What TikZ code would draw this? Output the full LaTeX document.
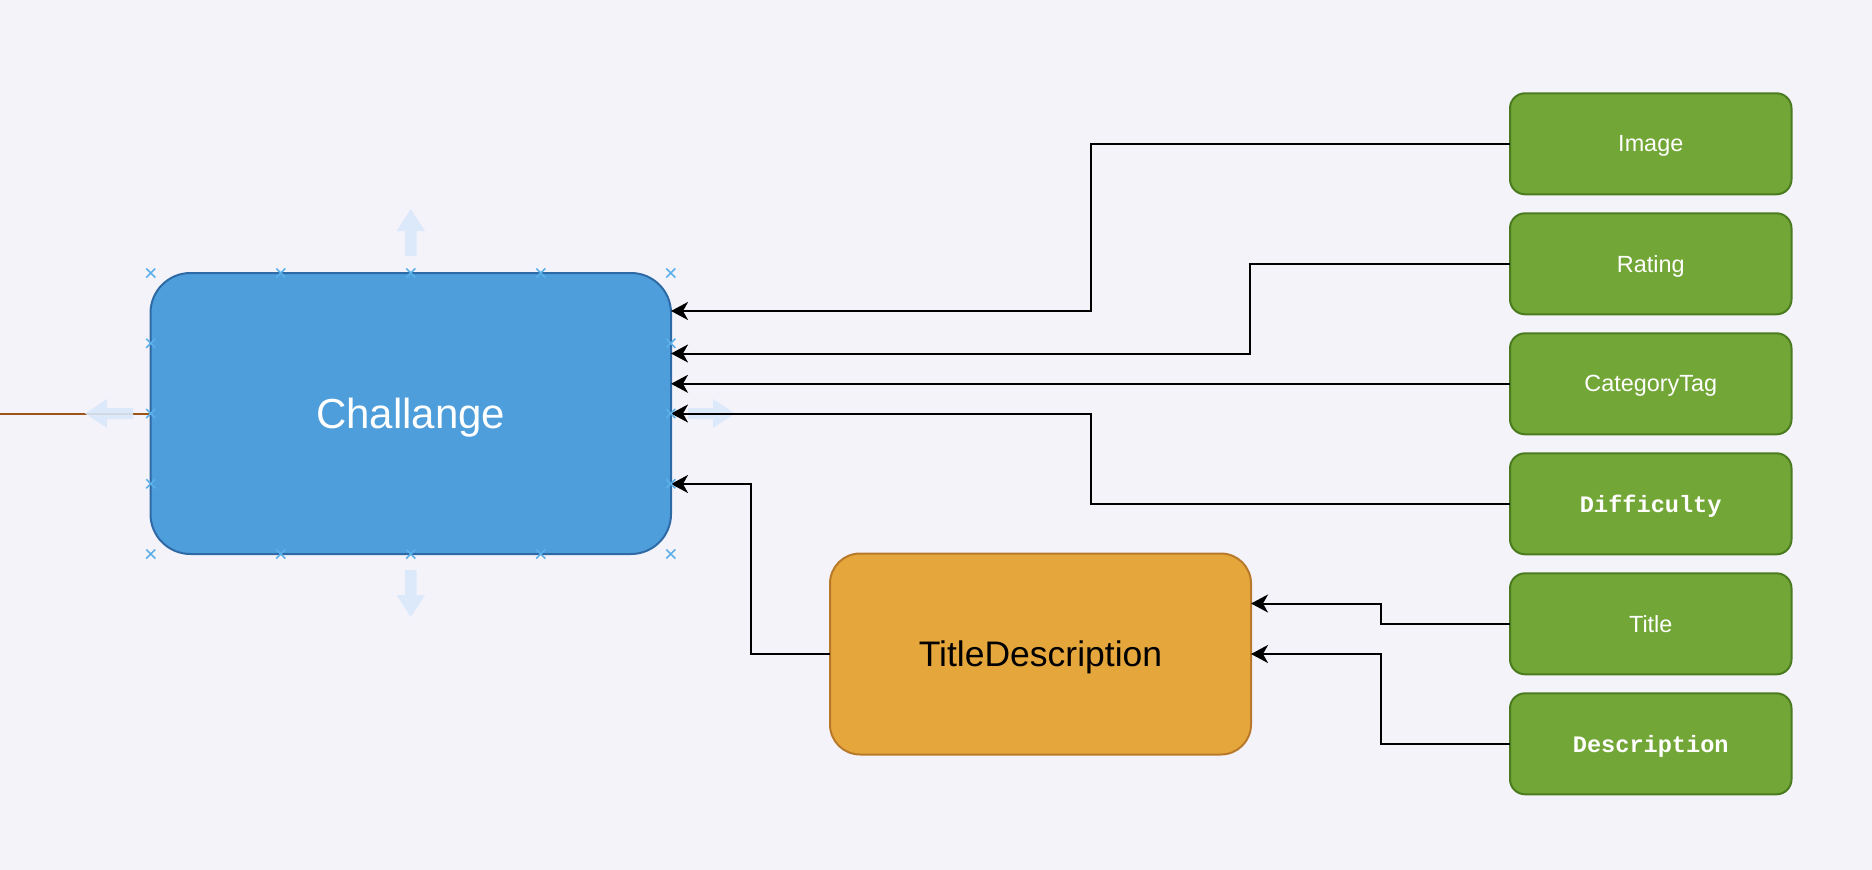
\documentclass[tikz,border=0pt]{standalone}
\usepackage{fontspec}
\setmainfont{Liberation Sans}
\newfontfamily\monob{Liberation Mono}
\usetikzlibrary{arrows.meta,calc}
\definecolor{bgc}{RGB}{245,243,250}
\definecolor{bluef}{RGB}{78,158,219}
\definecolor{blues}{RGB}{46,106,166}
\definecolor{greenf}{RGB}{114,166,54}
\definecolor{greens}{RGB}{75,123,33}
\definecolor{orangef}{RGB}{229,166,59}
\definecolor{oranges}{RGB}{184,122,42}
\definecolor{crossc}{RGB}{91,176,234}
\definecolor{hintc}{RGB}{218,232,250}
\definecolor{brownc}{RGB}{156,84,24}
\tikzset{
  box/.style={draw, line width=2pt, inner sep=0pt, outer sep=0pt, text depth=0pt},
  mainbox/.style={box, fill=bluef, draw=blues, rounded corners=40pt,
    minimum width=520.5pt, minimum height=281pt, text=white,
    font=\fontsize{42}{50}\selectfont},
  subbox/.style={box, fill=orangef, draw=oranges, rounded corners=30pt,
    minimum width=421pt, minimum height=201pt, text=black,
    font=\fontsize{35.5}{42}\selectfont},
  leaf/.style={box, fill=greenf, draw=greens, rounded corners=15pt,
    minimum width=281.5pt, minimum height=101pt, text=white,
    font=\fontsize{23.4}{28}\selectfont},
  monoleaf/.style={leaf, font=\fontsize{23.6}{28}\selectfont\monob\bfseries},
  arr/.style={line width=2pt, draw=black,
    -{Stealth[length=17pt,width=18pt,inset=5pt]}},
  xmark/.style={draw=crossc, line width=1.6pt},
  hint/.style={fill=hintc, draw=none, fill opacity=0.9}
}
\begin{document}
\begin{tikzpicture}[x=1pt,y=-1pt]
\fill[bgc] (0,0) rectangle (1872,870);
\useasboundingbox (0,0) rectangle (1872,870);

% nodes
\node[mainbox] (chal) at (410.75,413.5) {Challange};
\node[subbox] (td) at (1040.5,654) {TitleDescription};
\node[leaf] (img) at (1650.75,143.8) {Image};
\node[leaf] (rat) at (1650.75,263.8) {Rating};
\node[leaf] (cat) at (1650.75,383.8) {CategoryTag};
\node[monoleaf] (dif) at (1650.75,503.8) {Difficulty};
\node[leaf] (tit) at (1650.75,623.8) {Title};
\node[monoleaf] (des) at (1650.75,743.8) {Description};

% bend coordinates
\coordinate (cA) at (1091,311);
\coordinate (cB) at (1250,353.5);
\coordinate (cD) at (1091,413.5);
\coordinate (cT) at (751,484);
\coordinate (cTi) at (1381,603.5);
\coordinate (cDe) at (1381,654);
\coordinate (lft) at (0,413.5);

% faint right hint arrow (under connectors)
\fill[hint] (688,408) -- (713,408) -- (713,399) -- (735,413.5) -- (713,428) -- (713,419) -- (688,419) -- cycle;

% connectors
\draw[arr] (img.west) -| (cA) -- (chal.east |- cA);
\draw[arr] (rat.west) -| (cB) -- (chal.east |- cB);
\draw[arr] (cat.west) -- (chal.east |- cat.west);
\draw[arr] (dif.west) -| (cD) -- (chal.east);
\draw[arr] (td.west) -| (cT) -- (chal.east |- cT);
\draw[arr] (tit.west) -| (cTi) -- (td.east |- cTi);
\draw[arr] (des.west) -| (cDe) -- (td.east);
\draw[line width=2pt, draw=brownc] (lft) -- (chal.west);

% faint hint arrows (left, up, down)
\fill[hint] (133,408) -- (107,408) -- (107,399) -- (85,413.5) -- (107,428) -- (107,419) -- (133,419) -- cycle;
\fill[hint] (405,256) -- (405,231) -- (396.5,231) -- (410.75,209) -- (425,231) -- (416.5,231) -- (416.5,256) -- cycle;
\fill[hint] (405,570) -- (405,595) -- (396.5,595) -- (410.75,617) -- (425,595) -- (416.5,595) -- (416.5,570) -- cycle;

% connection point markers
\foreach \px in {150.75,280.75,410.75,540.75,670.75}{
  \foreach \py in {273,554}{
    \draw[xmark] (\px-4.5,\py-4.5) -- (\px+4.5,\py+4.5) (\px-4.5,\py+4.5) -- (\px+4.5,\py-4.5);
  }
}
\foreach \px in {150.75,670.75}{
  \foreach \py in {343.25,413.5,483.75}{
    \draw[xmark] (\px-4.5,\py-4.5) -- (\px+4.5,\py+4.5) (\px-4.5,\py+4.5) -- (\px+4.5,\py-4.5);
  }
}
\end{tikzpicture}
\end{document}
